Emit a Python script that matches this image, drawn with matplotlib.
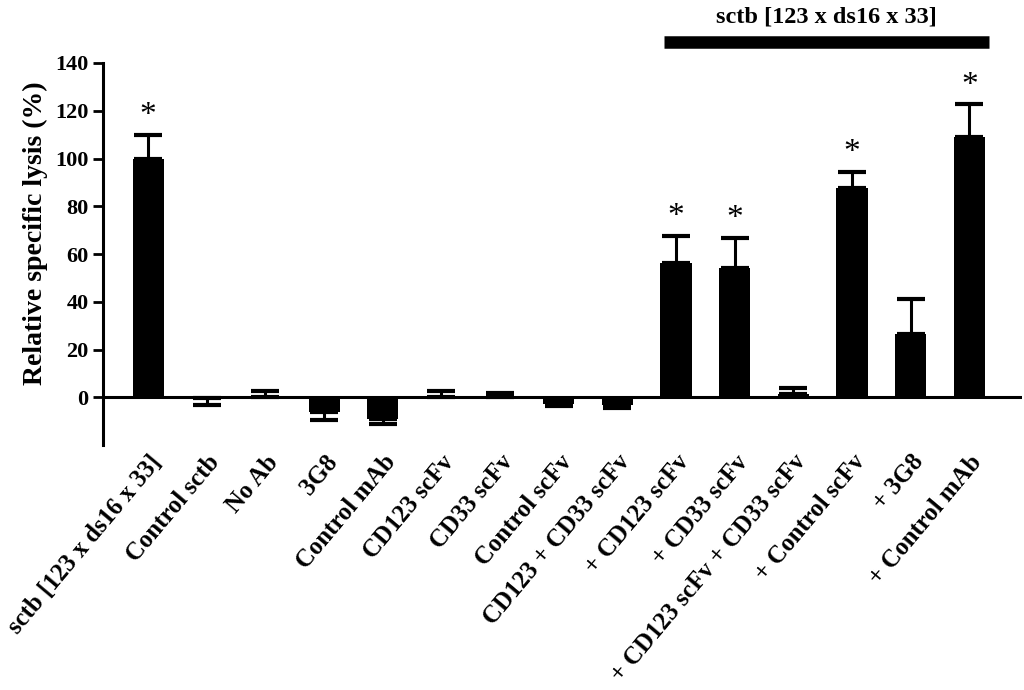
import numpy as np
import matplotlib
matplotlib.use('Agg')
import matplotlib.pyplot as plt

labels = ['sctb [123 x ds16 x 33]', 'Control sctb', 'No Ab', '3G8', 'Control mAb',
          'CD123 scFv', 'CD33 scFv', 'Control scFv', 'CD123 + CD33 scFv',
          '+ CD123 scFv', '+ CD33 scFv', '+ CD123 scFv + CD33 scFv',
          '+ Control scFv', '+ 3G8', '+ Control mAb']
means = [100, -0.4, 0.2, -6.0, -9.2, 0.2, 0.2, -3.0, -3.4,
         56.2, 54.0, 1.4, 87.8, 26.4, 109.2]
errs = [10.0, 2.7, 2.6, 3.6, 2.0, 2.3, 1.6, 0.8, 0.9,
        11.4, 12.8, 2.5, 6.7, 14.6, 13.5]
stars = [True, False, False, False, False, False, False, False, False,
         True, True, False, True, False, True]
group_label = 'sctb [123 x ds16 x 33]'
group_span = (9, 14)

plt.rcParams['font.family'] = ['Liberation Serif', 'DejaVu Serif']
plt.rcParams['font.weight'] = 'bold'

fig = plt.figure(figsize=(10.24, 6.9), dpi=100)
ax = fig.add_axes([0.1006, 0.355, 0.8975, 0.5537])

x = np.arange(len(labels))
means = np.array(means)
errs = np.array(errs)
lower = np.where(means < 0, errs, 0)
upper = np.where(means >= 0, errs, 0)

ax.bar(x, means, width=0.53, color='black', linewidth=0, zorder=2)
ax.errorbar(x, means, yerr=[lower, upper], fmt='none', ecolor='black',
            elinewidth=2.2, capsize=10, capthick=3, zorder=3)

for i in range(len(labels)):
    if stars[i]:
        ax.text(x[i], means[i] + errs[i] + 1.5, '*', ha='center', va='bottom',
                fontsize=24, fontweight='normal')

ax.axhline(0, color='black', lw=2.2, zorder=4)

ax.set_xlim(-0.77, 14.9)
ax.set_ylim(-20, 140)
ax.set_yticks(np.arange(0, 141, 20))
ax.tick_params(axis='y', labelsize=16, width=2, length=7, direction='out')
ax.set_xticks(x)
ax.set_xticklabels(labels, rotation=50, ha='right', rotation_mode='anchor',
                   fontsize=17.8)
ax.tick_params(axis='x', length=0, pad=4)
for lab in ax.get_yticklabels():
    lab.set_fontweight('bold')

for s in ['top', 'right', 'bottom']:
    ax.spines[s].set_visible(False)
ax.spines['left'].set_linewidth(2.2)

ax.set_ylabel('Relative specific lysis (%)', fontsize=20, fontweight='bold',
              labelpad=5)
ax.yaxis.label.set_y(0.555)

# group bar above the combination treatments
ax.plot([group_span[0] - 0.2, group_span[1] + 0.34], [149, 149], color='black',
        lw=9, solid_capstyle='butt', clip_on=False)
ax.text((group_span[0] + group_span[1]) / 2 + 0.07, 155, group_label,
        ha='center', va='bottom', fontsize=17.5, fontweight='bold')

fig.savefig('out.png', dpi=100)
